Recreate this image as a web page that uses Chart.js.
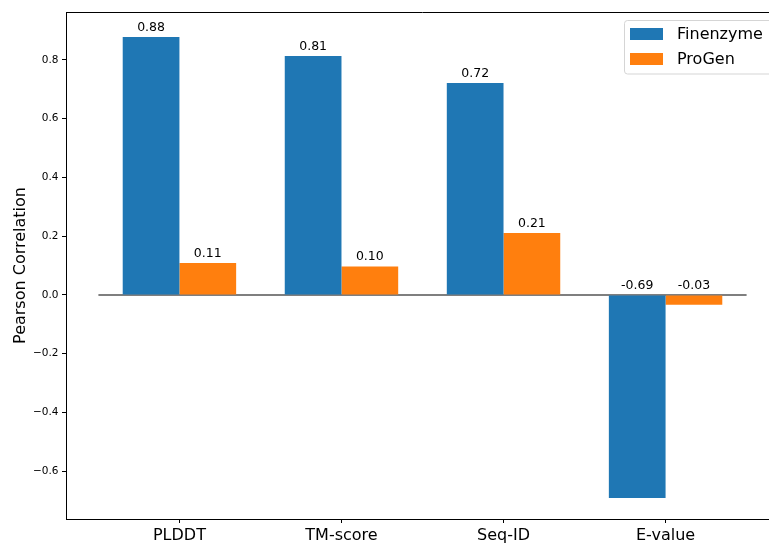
<!DOCTYPE html>
<html>
<head>
<meta charset="utf-8">
<script src="https://cdn.jsdelivr.net/npm/chart.js@4/dist/chart.umd.min.js"></script>
<style>
  html, body { margin: 0; padding: 0; background: #fff; }
  #wrap { width: 769px; height: 544px; overflow: hidden; position: relative; }
</style>
</head>
<body>
<div id="wrap"><canvas id="corrChart" width="790" height="544"></canvas></div>
<script>
const categories = ["PLDDT", "TM-score", "Seq-ID", "E-value"];
const finenzyme = [0.878, 0.814, 0.722, -0.691];
const progen = [0.109, 0.097, 0.211, -0.033];
const yTicks = [-0.6, -0.4, -0.2, 0.0, 0.2, 0.4, 0.6, 0.8];
const zeroLineX = [-0.5, 3.5];

const FONT = "DejaVu Sans";

// value labels above each bar (negatives sit just above the zero line)
const barLabels = {
    id: 'barLabels',
    afterDatasetsDraw(chart) {
        const ctx = chart.ctx;
        ctx.save();
        ctx.font = "12.5px '" + FONT + "'";
        ctx.fillStyle = '#000';
        ctx.textAlign = 'center';
        ctx.textBaseline = 'alphabetic';
        chart.data.datasets.forEach((ds, di) => {
            if (ds.type === 'line') return;
            const meta = chart.getDatasetMeta(di);
            meta.data.forEach((el, i) => {
                const v = ds.data[i].y;
                ctx.fillText(v.toFixed(2), el.x, Math.min(el.y, el.base) - 6);
            });
        });
        ctx.restore();
    }
};

// top spine + legend box like matplotlib
const frame = {
    id: 'frame',
    afterDraw(chart) {
        const ctx = chart.ctx;
        const a = chart.chartArea;
        ctx.save();
        ctx.strokeStyle = '#000';
        ctx.lineWidth = 1;
        ctx.beginPath();
        ctx.moveTo(a.left, a.top + 0.5);
        ctx.lineTo(a.right, a.top + 0.5);
        ctx.stroke();

        // legend
        const bx = 624, by = 20.5, bw = 148, bh = 53.5, r = 3;
        ctx.beginPath();
        ctx.roundRect(bx + 0.5, by, bw, bh, r);
        ctx.fillStyle = 'rgba(255,255,255,0.8)';
        ctx.fill();
        ctx.strokeStyle = '#d5d5d5';
        ctx.stroke();
        ctx.font = "16px '" + FONT + "'";
        ctx.textBaseline = 'middle';
        ctx.textAlign = 'left';
        const bars = chart.data.datasets.filter(d => d.type !== 'line');
        bars.forEach((ds, i) => {
            const y = 28 + i * 25;
            ctx.fillStyle = ds.backgroundColor;
            ctx.fillRect(630, y, 33, 12);
            ctx.fillStyle = '#000';
            ctx.fillText(ds.label, 677, y + 6.5);
        });
        ctx.restore();
    }
};

const ctx = document.getElementById('corrChart');

new Chart(ctx, {
    type: 'bar',
    data: {
        datasets: [
            {
                label: 'Finenzyme',
                data: finenzyme.map((v, i) => ({ x: i, y: v })),
                backgroundColor: '#1f77b4',
                borderWidth: 0,
                categoryPercentage: 0.7,
                barPercentage: 1.0
            },
            {
                label: 'ProGen',
                data: progen.map((v, i) => ({ x: i, y: v })),
                backgroundColor: '#ff7f0e',
                borderWidth: 0,
                categoryPercentage: 0.7,
                barPercentage: 1.0
            },
            {
                type: 'line',
                label: 'zero',
                data: zeroLineX.map(x => ({ x: x, y: 0 })),
                borderColor: '#000',
                borderWidth: 1.2,
                pointRadius: 0,
                fill: false
            }
        ]
    },
    options: {
        responsive: false,
        animation: false,
        devicePixelRatio: 1,
        layout: { padding: { top: 12, right: 11, bottom: 0, left: 0 } },
        plugins: {
            legend: { display: false },
            tooltip: { enabled: false }
        },
        scales: {
            x: {
                type: 'linear',
                min: -0.7,
                max: 3.7,
                offset: false,
                afterBuildTicks: (scale) => {
                    scale.ticks = categories.map((c, i) => ({ value: i }));
                },
                afterFit: (scale) => { scale.height = 25; },
                grid: {
                    offset: false,
                    drawOnChartArea: false,
                    drawTicks: true,
                    tickLength: 4,
                    tickColor: '#000',
                    tickWidth: 1
                },
                border: { display: true, color: '#000', width: 1 },
                ticks: {
                    autoSkip: false,
                    maxRotation: 0,
                    padding: 3,
                    color: '#000',
                    font: { family: FONT, size: 16 },
                    callback: (v) => categories[v]
                }
            },
            y: {
                min: -0.7626,
                max: 0.9634,
                afterBuildTicks: (scale) => {
                    scale.ticks = yTicks.map(v => ({ value: v }));
                },
                afterFit: (scale) => { scale.width = 66; },
                grid: {
                    drawOnChartArea: false,
                    drawTicks: true,
                    tickLength: 4,
                    tickColor: '#000',
                    tickWidth: 1
                },
                border: { display: true, color: '#000', width: 1 },
                ticks: {
                    padding: 3.5,
                    color: '#000',
                    font: { family: FONT, size: 10.5 },
                    callback: (v) => v.toFixed(1).replace('-', '\u2212')
                },
                title: {
                    display: true,
                    text: 'Pearson Correlation',
                    color: '#000',
                    font: { family: FONT, size: 16 },
                    padding: { top: 11, bottom: 0 }
                }
            }
        }
    },
    plugins: [barLabels, frame]
});
</script>
</body>
</html>
